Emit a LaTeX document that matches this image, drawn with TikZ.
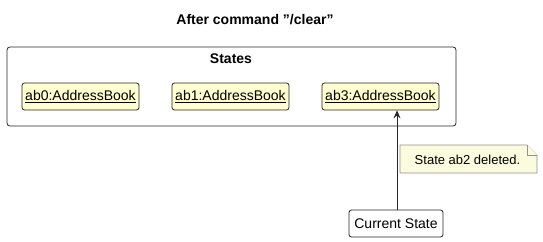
\documentclass[tikz,border=0pt]{standalone}
\usepackage{fontspec}
\setmainfont{Liberation Sans}
\usetikzlibrary{arrows.meta}
\definecolor{objfill}{HTML}{FEFECE}
\definecolor{notefill}{HTML}{FBFBDD}
\definecolor{noteline}{HTML}{909090}
\tikzset{
  objbox/.style={draw=black!85, fill=objfill, rounded corners=2.5pt, line width=0.8pt, minimum width=117pt, minimum height=27pt, inner sep=0pt, font=\fontsize{14}{16}\selectfont},
  plainbox/.style={draw=black!85, fill=white, rounded corners=2.5pt, line width=0.8pt, minimum width=94pt, minimum height=27pt, inner sep=0pt, font=\fontsize{14}{16}\selectfont},
  conn/.style={draw=black!85, line width=0.8pt, -{Stealth[length=8pt,width=7pt,inset=3pt]}},
  notebox/.style={draw=noteline, fill=notefill, line width=0.6pt}
}
\newcommand{\ul}[1]{\underline{#1}}
\begin{document}
\begin{tikzpicture}[x=1pt,y=-1pt]
\useasboundingbox (0,0) rectangle (543,241);
\node[font=\bfseries\fontsize{14}{16}\selectfont] (title) at (255,20) {After command \symbol{34}/clear\symbol{34}};
\draw[black!85, line width=0.8pt, rounded corners=3pt] (7,47) rectangle (456,126);
\node[font=\bfseries\fontsize{14}{16}\selectfont] (states) at (231,59) {States};
\node[objbox] (ab0) at (80.5,96.5) {\ul{ab0:AddressBook}};
\node[objbox] (ab1) at (230.5,96.5) {\ul{ab1:AddressBook}};
\node[objbox] (ab3) at (380.5,96.5) {\ul{ab3:AddressBook}};
\node[plainbox] (cur) at (396,223.5) {Current State};
\draw[conn] (cur.north -| 397,0) -- (ab3.south -| 397,0);
\draw[notebox] (400,145) -- (527,145) -- (537,155) -- (537,173) -- (400,173) -- cycle;
\draw[notebox] (527,145) -- (527,155) -- (537,155);
\node[font=\fontsize{13}{15}\selectfont] (note) at (467.5,159.5) {State ab2 deleted.};
\end{tikzpicture}
\end{document}
